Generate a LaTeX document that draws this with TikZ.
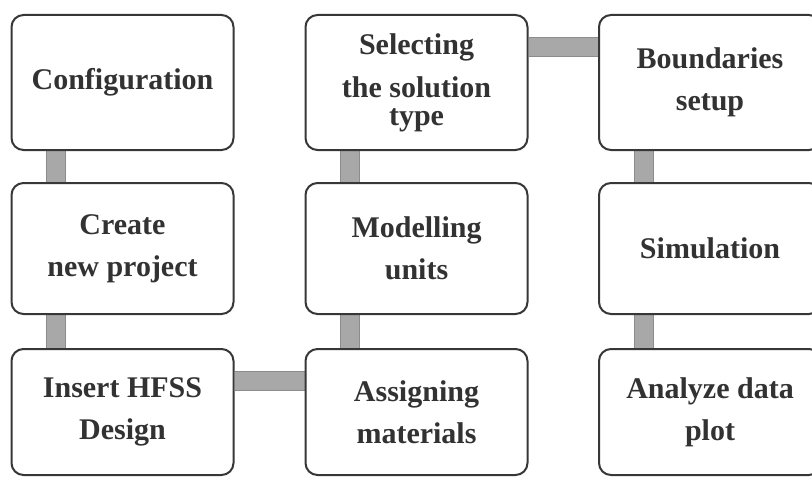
\documentclass[tikz,border=0pt]{standalone}
\usepackage{fontspec}
\setmainfont{Liberation Serif}
\usepackage{tikz}
\usetikzlibrary{positioning, calc, backgrounds}
\definecolor{hfEdge}{RGB}{55, 55, 55}
\definecolor{hfText}{RGB}{50, 50, 50}
\definecolor{hfBar}{RGB}{168, 168, 168}
\definecolor{hfBarEdge}{RGB}{140, 140, 140}
\tikzset{
    base/.style={
        font=\fontsize{22.5}{31.5}\selectfont\bfseries,
        align=center
    },
    stepbox/.style={
        base,
        rectangle,
        rounded corners=9pt,
        draw=hfEdge,
        line width=1.5pt,
        fill=white,
        text=hfText,
        minimum width=166.5pt
    },
    link/.style={
        draw=hfBarEdge,
        line width=0.75pt,
        double=hfBar,
        double distance=13.5pt
    }
}
\begin{document}
\begin{tikzpicture}[x=0.75pt, y=-0.75pt]
  \useasboundingbox (0,0) rectangle (812,478);

  % Row 1
  \node[stepbox, minimum height=101.25pt] (conf) at (122.5,82.5) {Configuration};
  \node[stepbox, minimum height=101.25pt] (sel) at (416.5,82.5) {Selecting\\[1pt]the solution\\[-11pt]type};
  \node[stepbox, minimum height=101.25pt] (bound) at (710,82.5) {Boundaries\\setup};

  % Row 2
  \node[stepbox, minimum height=98.25pt] (create) at (122.5,248.5) {Create\\new project};
  \node[stepbox, minimum height=98.25pt] (units) at (416.5,248.5) {Modelling\\units};
  \node[stepbox, minimum height=98.25pt] (sim) at (710,248.5) {Simulation};

  % Row 3
  \node[stepbox, minimum height=94.5pt] (insert) at (122.5,412) {Insert HFSS\\Design};
  \node[stepbox, minimum height=94.5pt] (assign) at (416.5,412) {Assigning\\materials};
  \node[stepbox, minimum height=94.5pt] (analyze) at (710,412) {Analyze data\\plot};

  % Connections
  \begin{scope}[on background layer]
    \draw[link] ($(conf.south west)+(45,0)$) -- ($(create.north west)+(45,0)$);
    \draw[link] ($(create.south west)+(45,0)$) -- ($(insert.north west)+(45,0)$);
    \draw[link] ($(insert.north east)+(0,33)$) -- ($(assign.north west)+(0,33)$);
    \draw[link] ($(assign.north west)+(45,0)$) -- ($(units.south west)+(45,0)$);
    \draw[link] ($(units.north west)+(45,0)$) -- ($(sel.south west)+(45,0)$);
    \draw[link] ($(sel.north east)+(0,33)$) -- ($(bound.north west)+(0,33)$);
    \draw[link] ($(bound.south west)+(46,0)$) -- ($(sim.north west)+(46,0)$);
    \draw[link] ($(sim.south west)+(46,0)$) -- ($(analyze.north west)+(46,0)$);
  \end{scope}
\end{tikzpicture}
\end{document}
